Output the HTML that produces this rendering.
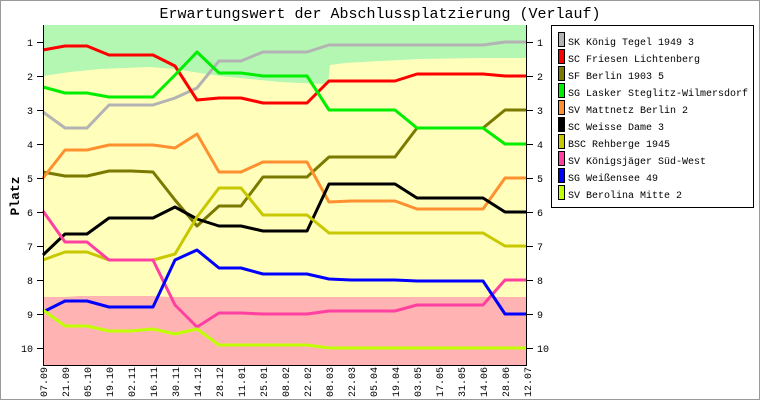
<!DOCTYPE html>
<html><head><style>
body{margin:0;background:#fff}
svg{display:block;font-family:"Liberation Mono","DejaVu Sans Mono",monospace}
</style></head><body>
<svg width="760" height="400" viewBox="0 0 760 400" xmlns="http://www.w3.org/2000/svg">
<rect x="0.5" y="0.5" width="759" height="399" fill="#fff" stroke="#999"/>
<text x="380" y="18" font-size="15" text-anchor="middle" fill="#000">Erwartungswert der Abschlussplatzierung (Verlauf)</text>
<rect x="43" y="25" width="484" height="340" fill="#ffffbb"/>
<polygon fill="#b3f7b3" points="43,25 527,25 527,58 480,58 420,59 380,61 345,63 330,65 328,84 300,83 280,82 250,79 220,76 200,73 175,69 150,67 100,69 70,72 43,76"/>
<polygon fill="#ffb3b3" points="43,297 65,297 80,296 150,296 170,297 200,297 260,297 527,297 527,365 43,365"/>
<g fill="none" stroke-width="3" stroke-linejoin="round">
<polyline stroke="#b3b3b3" points="43,112 65,128 87,128 109,105 131,105 153,105 175,98 197,88 219,61 241,61 263,52 285,52 307,52 329,45 351,45 373,45 395,45 417,45 439,45 461,45 483,45 505,42 527,42"/>
<polyline stroke="#ff0000" points="43,50 65,46 87,46 109,55 131,55 153,55 175,66 197,100 219,98 241,98 263,103 285,103 307,103 329,81 351,81 373,81 395,81 417,74 439,74 461,74 483,74 505,76 527,76"/>
<polyline stroke="#7a7a00" points="43,172 65,176 87,176 109,171 131,171 153,172 175,200 197,226 219,206 241,206 263,177 285,177 307,177 329,157 351,157 373,157 395,157 417,128 439,128 461,128 483,128 505,110 527,110"/>
<polyline stroke="#00ee00" points="43,87 65,93 87,93 109,97 131,97 153,97 175,75 197,52 219,73 241,73 263,76 285,76 307,76 329,110 351,110 373,110 395,110 417,128 439,128 461,128 483,128 505,144 527,144"/>
<polyline stroke="#ff9030" points="43,178 65,150 87,150 109,145 131,145 153,145 175,148 197,134 219,172 241,172 263,162 285,162 307,162 329,202 351,201 373,201 395,201 417,209 439,209 461,209 483,209 505,178 527,178"/>
<polyline stroke="#000000" points="43,255 65,234 87,234 109,218 131,218 153,218 175,207 197,219 219,226 241,226 263,231 285,231 307,231 329,184 351,184 373,184 395,184 417,198 439,198 461,198 483,198 505,212 527,212"/>
<polyline stroke="#c8c800" points="43,260 65,252 87,252 109,260 131,260 153,260 175,254 197,217 219,188 241,188 263,215 285,215 307,215 329,233 351,233 373,233 395,233 417,233 439,233 461,233 483,233 505,246 527,246"/>
<polyline stroke="#ff40a0" points="43,211 65,242 87,242 109,260 131,260 153,260 175,305 197,327 219,313 241,313 263,314 285,314 307,314 329,311 351,311 373,311 395,311 417,305 439,305 461,305 483,305 505,280 527,280"/>
<polyline stroke="#0000ff" points="43,312 65,301 87,301 109,307 131,307 153,307 175,260 197,250 219,268 241,268 263,274 285,274 307,274 329,279 351,280 373,280 395,280 417,281 439,281 461,281 483,281 505,314 527,314"/>
<polyline stroke="#c0ff00" points="43,310 65,326 87,326 109,331 131,331 153,329 175,334 197,329 219,345 241,345 263,345 285,345 307,345 329,348 351,348 373,348 395,348 417,348 439,348 461,348 483,348 505,348 527,348"/>
</g>
<g stroke="#000" stroke-width="1">
<line x1="43.5" y1="25" x2="43.5" y2="365"/>
<line x1="526.5" y1="25" x2="526.5" y2="365"/>
<line x1="43" y1="365.5" x2="527" y2="365.5"/>
<path d="M37,42.5h6M37,76.5h6M37,110.5h6M37,144.5h6M37,178.5h6M37,212.5h6M37,246.5h6M37,280.5h6M37,314.5h6M37,348.5h6M527,42.5h6M527,76.5h6M527,110.5h6M527,144.5h6M527,178.5h6M527,212.5h6M527,246.5h6M527,280.5h6M527,314.5h6M527,348.5h6"/>
</g>
<g font-size="10" fill="#000">
<g text-anchor="end">
<text x="33" y="46">1</text><text x="33" y="80">2</text><text x="33" y="114">3</text><text x="33" y="148">4</text><text x="33" y="182">5</text><text x="33" y="216">6</text><text x="33" y="250">7</text><text x="33" y="284">8</text><text x="33" y="318">9</text><text x="33" y="352">10</text>
</g>
<text x="537" y="46">1</text><text x="537" y="80">2</text><text x="537" y="114">3</text><text x="537" y="148">4</text><text x="537" y="182">5</text><text x="537" y="216">6</text><text x="537" y="250">7</text><text x="537" y="284">8</text><text x="537" y="318">9</text><text x="537" y="352">10</text>
</g>
<text transform="translate(19,196) rotate(-90)" font-size="13" font-weight="bold" text-anchor="middle">Platz</text>
<g font-size="10" text-anchor="end">
<text transform="translate(47,397) rotate(-90)" text-anchor="start">07.09</text>
<text transform="translate(69,397) rotate(-90)" text-anchor="start">21.09</text>
<text transform="translate(91,397) rotate(-90)" text-anchor="start">05.10</text>
<text transform="translate(113,397) rotate(-90)" text-anchor="start">19.10</text>
<text transform="translate(135,397) rotate(-90)" text-anchor="start">02.11</text>
<text transform="translate(157,397) rotate(-90)" text-anchor="start">16.11</text>
<text transform="translate(179,397) rotate(-90)" text-anchor="start">30.11</text>
<text transform="translate(201,397) rotate(-90)" text-anchor="start">14.12</text>
<text transform="translate(223,397) rotate(-90)" text-anchor="start">28.12</text>
<text transform="translate(245,397) rotate(-90)" text-anchor="start">11.01</text>
<text transform="translate(267,397) rotate(-90)" text-anchor="start">25.01</text>
<text transform="translate(289,397) rotate(-90)" text-anchor="start">08.02</text>
<text transform="translate(311,397) rotate(-90)" text-anchor="start">22.02</text>
<text transform="translate(333,397) rotate(-90)" text-anchor="start">08.03</text>
<text transform="translate(355,397) rotate(-90)" text-anchor="start">22.03</text>
<text transform="translate(377,397) rotate(-90)" text-anchor="start">05.04</text>
<text transform="translate(399,397) rotate(-90)" text-anchor="start">19.04</text>
<text transform="translate(421,397) rotate(-90)" text-anchor="start">03.05</text>
<text transform="translate(443,397) rotate(-90)" text-anchor="start">17.05</text>
<text transform="translate(465,397) rotate(-90)" text-anchor="start">31.05</text>
<text transform="translate(487,397) rotate(-90)" text-anchor="start">14.06</text>
<text transform="translate(509,397) rotate(-90)" text-anchor="start">28.06</text>
<text transform="translate(531,397) rotate(-90)" text-anchor="start">12.07</text>
</g>
<rect x="551.5" y="25.5" width="202" height="182" fill="#fff" stroke="#000"/>
<g stroke="#000" stroke-width="1">
<rect x="558.5" y="32.5" width="6" height="14" fill="#b3b3b3"/>
<rect x="558.5" y="49.5" width="6" height="14" fill="#ff0000"/>
<rect x="558.5" y="66.5" width="6" height="14" fill="#7a7a00"/>
<rect x="558.5" y="83.5" width="6" height="14" fill="#00ee00"/>
<rect x="558.5" y="100.5" width="6" height="14" fill="#ff9030"/>
<rect x="558.5" y="117.5" width="6" height="14" fill="#000000"/>
<rect x="558.5" y="134.5" width="6" height="14" fill="#c8c800"/>
<rect x="558.5" y="151.5" width="6" height="14" fill="#ff40a0"/>
<rect x="558.5" y="168.5" width="6" height="14" fill="#0000ff"/>
<rect x="558.5" y="185.5" width="6" height="14" fill="#c0ff00"/>
</g>
<g font-size="10">
<text x="568" y="45">SK König Tegel 1949 3</text>
<text x="568" y="62">SC Friesen Lichtenberg</text>
<text x="568" y="79">SF Berlin 1903 5</text>
<text x="568" y="96">SG Lasker Steglitz-Wilmersdorf</text>
<text x="568" y="113">SV Mattnetz Berlin 2</text>
<text x="568" y="130">SC Weisse Dame 3</text>
<text x="568" y="147">BSC Rehberge 1945</text>
<text x="568" y="164">SV Königsjäger Süd-West</text>
<text x="568" y="181">SG Weißensee 49</text>
<text x="568" y="198">SV Berolina Mitte 2</text>
</g>
</svg>
</body></html>
